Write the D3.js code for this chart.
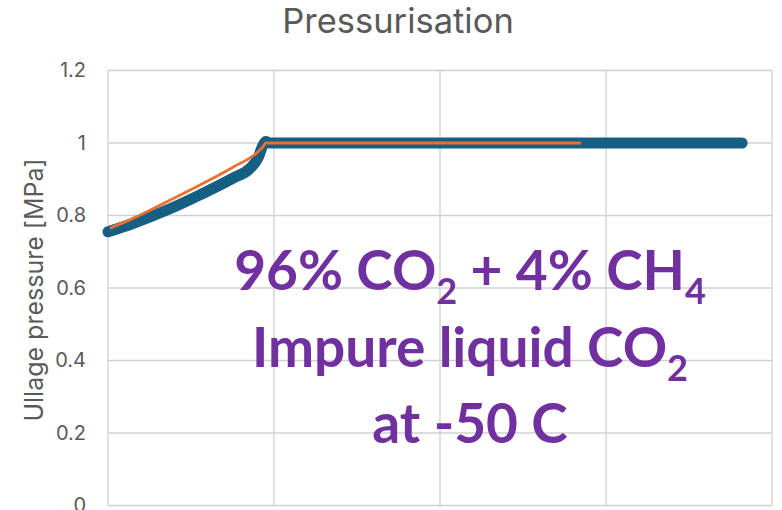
<!DOCTYPE html>
<html>
<head>
<meta charset="utf-8">
<script src="https://cdn.jsdelivr.net/npm/d3@7"></script>
<style>
  body { margin: 0; background: #fff; }
  svg { display: block; }
</style>
</head>
<body>
<div id="chart"></div>
<script>
// time [s] / ullage pressure [MPa]
const measuredTime = [0, 150, 355, 554, 753, 855, 904, 934, 950, 975, 2000, 3000, 3820];
const measuredPressure = [0.755, 0.778, 0.815, 0.857, 0.903, 0.930, 0.959, 0.994, 1.004, 1.0, 1.0, 1.0, 1.0];

const modelTime = [12, 150, 355, 554, 753, 904, 934, 950, 2000, 2850];
const modelPressure = [0.765, 0.792, 0.838, 0.884, 0.933, 0.976, 0.99, 1.0, 1.0, 1.0];

const xTicks = [0, 1000, 2000, 3000, 4000];
const yTicks = [0, 0.2, 0.4, 0.6, 0.8, 1, 1.2];

const titleText = "Pressurisation";
const yLabelText = "Ullage pressure [MPa]";

const width = 782;
const height = 510;
const margin = { top: 70.5, right: 10, bottom: 4.5, left: 108 };
const innerWidth = width - margin.left - margin.right;
const innerHeight = height - margin.top - margin.bottom;

const textGray = "#595959";
const gridColor = "#d0d0d0";
const blue = "#156082";
const orange = "#e97132";
const purple = "#7030a0";
const font = "Inter, 'Open Sans', sans-serif";

const x = d3.scaleLinear().domain([0, 4000]).range([0, innerWidth]);
const y = d3.scaleLinear().domain([0, 1.2]).range([innerHeight, 0]);

const svg = d3
  .select("#chart")
  .append("svg")
  .attr("width", width)
  .attr("height", height)
  .style("font-family", font);

const g = svg
  .append("g")
  .attr("transform", `translate(${margin.left},${margin.top})`);

// gridlines
g.append("g")
  .attr("stroke", gridColor)
  .attr("stroke-width", 1.3)
  .selectAll("line")
  .data(yTicks)
  .join("line")
  .attr("x1", 0)
  .attr("x2", innerWidth)
  .attr("y1", (d) => y(d))
  .attr("y2", (d) => y(d));

g.append("g")
  .attr("stroke", gridColor)
  .attr("stroke-width", 1.3)
  .selectAll("line")
  .data(xTicks)
  .join("line")
  .attr("x1", (d) => x(d))
  .attr("x2", (d) => x(d))
  .attr("y1", 0)
  .attr("y2", innerHeight);

// y axis labels
g.append("g")
  .call(d3.axisLeft(y).tickValues(yTicks).tickSize(0).tickPadding(22).tickFormat(d3.format("~g")))
  .call((g) => g.select(".domain").remove())
  .call((g) =>
    g
      .selectAll("text")
      .attr("fill", textGray)
      .style("font-size", "20px")
      .style("font-family", font)
  );

// series
const line = d3
  .line()
  .x((d) => x(d[0]))
  .y((d) => y(d[1]))
  .curve(d3.curveMonotoneX);

g.append("path")
  .datum(d3.zip(measuredTime, measuredPressure))
  .attr("fill", "none")
  .attr("stroke", blue)
  .attr("stroke-width", 11)
  .attr("stroke-linecap", "round")
  .attr("stroke-linejoin", "round")
  .attr("d", line);

g.append("path")
  .datum(d3.zip(modelTime, modelPressure))
  .attr("fill", "none")
  .attr("stroke", orange)
  .attr("stroke-width", 2.8)
  .attr("d", line);

// title
svg
  .append("text")
  .attr("x", 398)
  .attr("y", 33)
  .attr("text-anchor", "middle")
  .attr("fill", textGray)
  .style("font-size", "34.5px")
  .text(titleText);

// y axis title
svg
  .append("text")
  .attr("transform", `translate(43,290) rotate(-90)`)
  .attr("text-anchor", "middle")
  .attr("fill", textGray)
  .style("font-size", "25px")
  .text(yLabelText);

// annotation
const noteLines = [
  [["96% CO", 0], ["2", 1], [" + 4% CH", 0], ["4", 1]],
  [["Impure liquid CO", 0], ["2", 1]],
  [["at -50 C", 0]],
];
const noteBaselines = [290, 367, 443];

noteLines.forEach((parts, i) => {
  const t = svg
    .append("text")
    .attr("x", 470)
    .attr("y", noteBaselines[i])
    .attr("text-anchor", "middle")
    .attr("fill", purple)
    .style("font-family", "Lato, 'Open Sans', sans-serif")
    .style("font-weight", "bold")
    .style("font-size", "55px");
  parts.forEach(([s, sub], j) => {
    const span = t.append("tspan").text(s);
    if (sub) span.style("font-size", "36px").attr("dy", 14);
    else span.attr("dy", j > 0 ? -14 : 0);
  });
});
</script>
</body>
</html>
